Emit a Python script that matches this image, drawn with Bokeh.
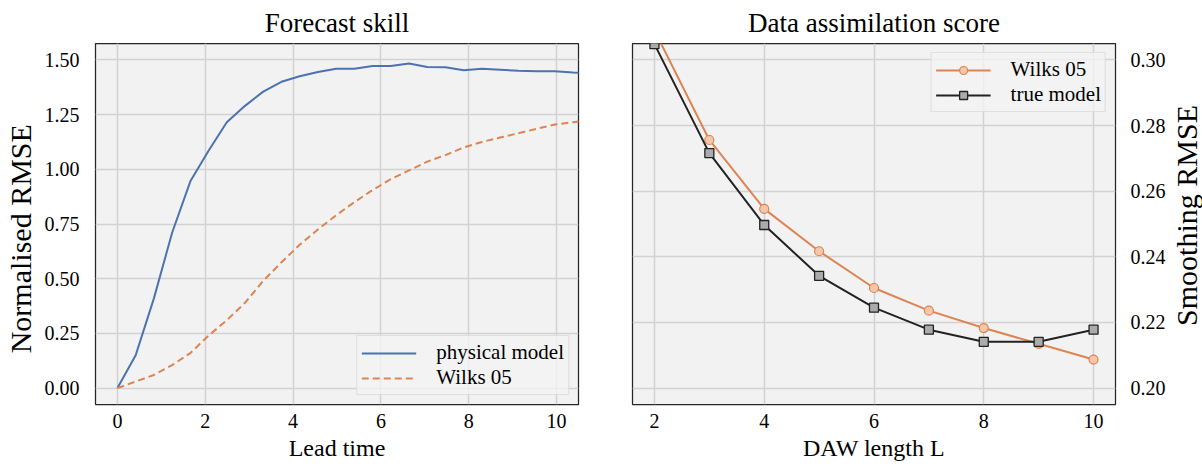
import math
from bokeh.plotting import figure
from bokeh.layouts import row
from bokeh.models import (FixedTicker, PrintfTickFormatter, Legend, LegendItem,
                          Range1d, Label)
from bokeh.embed import file_html
from bokeh.resources import INLINE

# ---------------- data ----------------
lead_time = [0.0, 0.415, 0.83, 1.245, 1.66, 2.075, 2.49, 2.905, 3.32, 3.735,
             4.15, 4.565, 4.98, 5.395, 5.81, 6.225, 6.64, 7.055, 7.47, 7.885,
             8.30, 8.715, 9.13, 9.545, 9.96, 10.375, 10.79]
physical_model = [0.0, 0.15, 0.41, 0.71, 0.945, 1.085, 1.215, 1.29, 1.355, 1.40,
                  1.425, 1.445, 1.46, 1.46, 1.472, 1.472, 1.484, 1.468, 1.466, 1.453,
                  1.46, 1.455, 1.45, 1.448, 1.448, 1.442, 1.44]
wilks_forecast = [0.0, 0.03, 0.06, 0.105, 0.16, 0.24, 0.31, 0.39, 0.49, 0.575,
                  0.655, 0.725, 0.79, 0.85, 0.905, 0.955, 0.995, 1.035, 1.065, 1.10,
                  1.125, 1.145, 1.165, 1.185, 1.205, 1.215, 1.225]

daw_length = [2, 3, 4, 5, 6, 7, 8, 9, 10]
wilks_da = [0.309, 0.2756, 0.2546, 0.2417, 0.2305, 0.2236, 0.2183, 0.2135, 0.2087]
true_model_da = [0.3048, 0.2716, 0.2497, 0.2342, 0.2245, 0.2178, 0.2141, 0.2141, 0.2178]

left_xticks = [0, 2, 4, 6, 8, 10]
left_yticks = [0.0, 0.25, 0.5, 0.75, 1.0, 1.25, 1.5]
right_xticks = [2, 4, 6, 8, 10]
right_yticks = [0.20, 0.22, 0.24, 0.26, 0.28, 0.30]

# ---------------- style ----------------
FONT = "Liberation Serif"
BLUE = "#4C72B0"
ORANGE = "#DD8452"
HEIGHT = 466
TOP, BOTTOM = 43, 62


def style(p, title, xlabel, xticks, yticks):
    p.title.text = title
    p.title.text_font = FONT
    p.title.text_font_size = "27px"
    p.title.text_font_style = "normal"
    p.title.text_color = "#000000"
    p.title.align = "center"
    p.title.standoff = 11
    p.background_fill_color = "#f2f2f2"
    p.border_fill_color = "white"
    p.outline_line_color = "#262626"
    p.outline_line_width = 1.25
    p.xaxis.ticker = FixedTicker(ticks=xticks)
    p.yaxis.ticker = FixedTicker(ticks=yticks)
    p.yaxis.formatter = PrintfTickFormatter(format="%.2f")
    for ax in p.axis:
        ax.axis_line_color = None
        ax.major_tick_line_color = None
        ax.minor_tick_line_color = None
        ax.major_label_text_font = FONT
        ax.major_label_text_font_size = "20px"
        ax.major_label_text_color = "#000000"
        ax.axis_label_text_font = FONT
        ax.axis_label_text_font_style = "normal"
        ax.axis_label_text_color = "#000000"
    p.xaxis.axis_label = xlabel
    p.xaxis.axis_label_text_font_size = "24px"
    p.xaxis.major_label_standoff = 3
    p.xaxis.axis_label_standoff = 4
    for g in p.grid:
        g.grid_line_color = "#d2d2d2"
        g.grid_line_width = 1.5


def style_legend(leg):
    leg.label_text_font = FONT
    leg.label_text_font_size = "21px"
    leg.label_text_color = "#000000"
    leg.glyph_width = 55
    leg.glyph_height = 20
    leg.label_height = 20
    leg.label_standoff = 20
    leg.spacing = 0
    leg.padding = 4
    leg.margin = 9
    leg.border_line_color = "#cccccc"
    leg.border_line_width = 1
    leg.background_fill_color = "#f2f2f2"
    leg.background_fill_alpha = 0.8


def side_title(width, text, x, y_from_top):
    """Narrow blank strip that carries a vertical axis title (bottom-to-top)."""
    s = figure(width=width, height=HEIGHT, output_backend="svg", toolbar_location=None,
               x_range=Range1d(0, width), y_range=Range1d(0, HEIGHT),
               x_axis_type=None, y_axis_type=None,
               min_border_left=0, min_border_right=0, min_border_top=0,
               min_border_bottom=0)
    s.outline_line_color = None
    s.background_fill_color = "white"
    s.border_fill_color = "white"
    s.add_layout(Label(x=x, y=HEIGHT - y_from_top, text=text, text_font=FONT,
                       text_font_size="30px", text_color="#000000",
                       angle=math.pi / 2, text_align="center",
                       text_baseline="middle"))
    return s


# ---------------- left panel ----------------
LEFT_STRIP = 38
left_title = side_title(LEFT_STRIP, "Normalised RMSE", 20, 252)

left = figure(width=605 - LEFT_STRIP, height=HEIGHT, output_backend="svg",
              toolbar_location=None,
              x_range=Range1d(-0.5, 10.5), y_range=Range1d(-0.075, 1.575),
              min_border_left=95 - LEFT_STRIP, min_border_right=27, min_border_top=TOP,
              min_border_bottom=BOTTOM)
style(left, "Forecast skill", "Lead time", left_xticks, left_yticks)
left.yaxis.major_label_standoff = 10

r_phys = left.line(lead_time, physical_model, line_color=BLUE, line_width=2)
r_wilks = left.line(lead_time, wilks_forecast, line_color=ORANGE, line_width=2,
                    line_dash="7 4")
leg_l = Legend(items=[LegendItem(label="physical model", renderers=[r_phys]),
                      LegendItem(label="Wilks 05", renderers=[r_wilks])],
               location="bottom_right")
style_legend(leg_l)
left.add_layout(leg_l)

# ---------------- right panel ----------------
right = figure(width=563, height=HEIGHT, output_backend="svg", toolbar_location=None,
               x_range=Range1d(1.6, 10.4), y_range=Range1d(0.195, 0.305),
               y_axis_location="right",
               min_border_left=27, min_border_right=52, min_border_top=TOP,
               min_border_bottom=BOTTOM)
style(right, "Data assimilation score", "DAW length L", right_xticks, right_yticks)
right.yaxis.major_label_standoff = 9

wl = right.line(daw_length, wilks_da, line_color=ORANGE, line_width=2)
ws = right.scatter(daw_length, wilks_da, marker="circle", size=9,
                   fill_color="#F5C6A9", line_color=ORANGE, line_width=1.2)
tl = right.line(daw_length, true_model_da, line_color="#222222", line_width=2)
ts = right.scatter(daw_length, true_model_da, marker="square", size=9,
                   fill_color="#ABABAB", line_color="#222222", line_width=1.3)
leg_r = Legend(items=[LegendItem(label="Wilks 05", renderers=[wl, ws]),
                      LegendItem(label="true model", renderers=[tl, ts])],
               location="top_right")
style_legend(leg_r)
right.add_layout(leg_r)

right_title = side_title(34, "Smoothing RMSE", 18, 222)

layout = row(left_title, left, right, right_title)
open("out.html", "w").write(file_html(layout, INLINE))
